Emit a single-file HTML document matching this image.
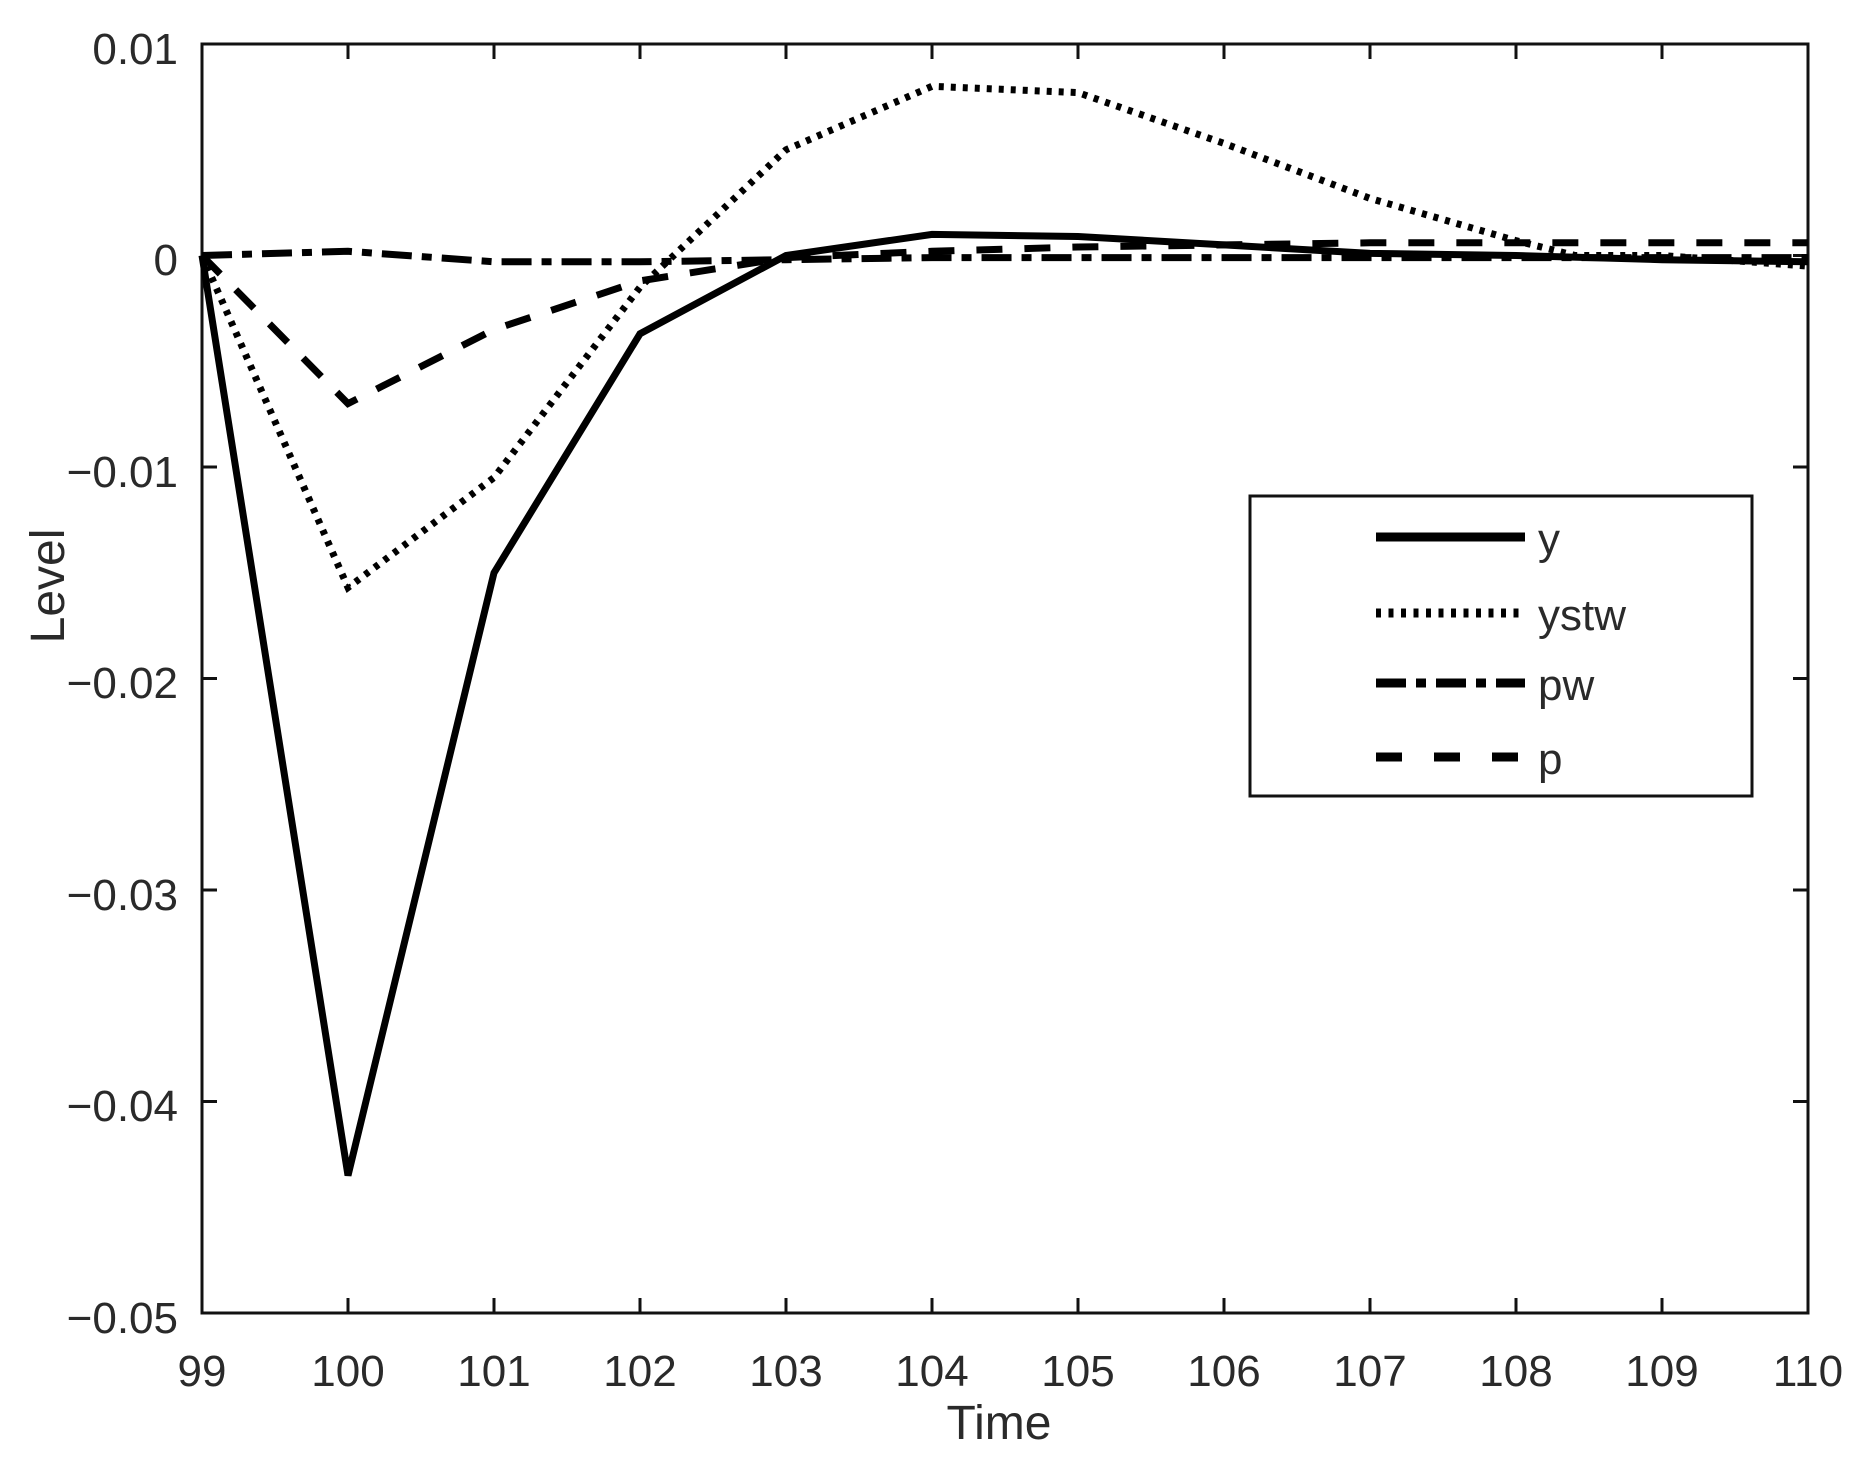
<!DOCTYPE html>
<html><head><meta charset="utf-8"><style>
html,body{margin:0;padding:0;background:#fff;}
svg{display:block;}
text{font-family:"Liberation Sans",Arial,sans-serif;fill:#2a2a2a;}
</style></head><body>
<svg width="1864" height="1484" viewBox="0 0 1864 1484" xmlns="http://www.w3.org/2000/svg">
<rect width="1864" height="1484" fill="#fff"/>
<rect x="202" y="44" width="1606" height="1269" fill="none" stroke="#111" stroke-width="3"/>
<g stroke="#111" stroke-width="3">
<path d="M348 1313v-15M494 1313v-15M640 1313v-15M786 1313v-15M932 1313v-15M1078 1313v-15M1224 1313v-15M1370 1313v-15M1516 1313v-15M1662 1313v-15"/>
<path d="M348 44v15M494 44v15M640 44v15M786 44v15M932 44v15M1078 44v15M1224 44v15M1370 44v15M1516 44v15M1662 44v15"/>
<path d="M202 255.5h15M202 467h15M202 678.5h15M202 890h15M202 1101.5h15"/>
<path d="M1808 255.5h-15M1808 467h-15M1808 678.5h-15M1808 890h-15M1808 1101.5h-15"/>
</g>
<g font-size="44" text-anchor="end">
<text x="178" y="64">0.01</text>
<text x="178" y="275">0</text>
<text x="178" y="487">−0.01</text>
<text x="178" y="698">−0.02</text>
<text x="178" y="910">−0.03</text>
<text x="178" y="1121">−0.04</text>
<text x="178" y="1333">−0.05</text>
</g>
<g font-size="44" text-anchor="middle">
<text x="202" y="1386">99</text>
<text x="348" y="1386">100</text>
<text x="494" y="1386">101</text>
<text x="640" y="1386">102</text>
<text x="786" y="1386">103</text>
<text x="932" y="1386">104</text>
<text x="1078" y="1386">105</text>
<text x="1224" y="1386">106</text>
<text x="1370" y="1386">107</text>
<text x="1516" y="1386">108</text>
<text x="1662" y="1386">109</text>
<text x="1808" y="1386">110</text>
<text x="999" y="1439" font-size="48">Time</text>
<text transform="translate(64,586) rotate(-90)" font-size="48">Level</text>
</g>
<g fill="none" stroke="#000" stroke-linejoin="miter">
<polyline stroke-width="7" points="202,255.5 348,1175.5 494,572.8 640,333.8 786,255.5 932,234.4 1078,236.5 1224,244.9 1370,253.4 1516,255.5 1662,259.7 1808,261.8"/>
<polyline stroke-width="7" stroke-dasharray="5,7" points="202,255.5 348,587.6 494,477.6 640,287.2 786,149.8 932,86.3 1078,92.6 1224,143.4 1370,198.4 1516,240.7 1575,255.5 1662,255.5 1808,266.1"/>
<polyline stroke-width="7" stroke-dasharray="30,10,10,10" points="202,255.5 348,251.3 494,261.8 640,261.8 786,259.7 932,257.6 1078,257.6 1224,257.6 1370,257.6 1516,257.6 1662,257.6 1808,257.6"/>
<polyline stroke-width="7" stroke-dasharray="26,22" points="202,255.5 348,403.6 494,329.5 640,280.9 786,257.6 932,251.3 1078,247.0 1224,244.9 1370,242.8 1516,242.8 1662,242.8 1808,242.8"/>
</g>
<rect x="1250" y="496" width="502" height="300" fill="#fff" stroke="#111" stroke-width="3"/>
<g stroke="#000" stroke-width="9" fill="none">
<path d="M1376 537H1525"/>
<path d="M1376 613H1525" stroke-dasharray="5,7.5"/>
<path d="M1376 683H1525" stroke-dasharray="30,10,10,10"/>
<path d="M1376 757H1525" stroke-dasharray="26,32"/>
</g>
<g font-size="44">
<text x="1538" y="554">y</text>
<text x="1538" y="630">ystw</text>
<text x="1538" y="700">pw</text>
<text x="1538" y="774">p</text>
</g>
</svg>
</body></html>
